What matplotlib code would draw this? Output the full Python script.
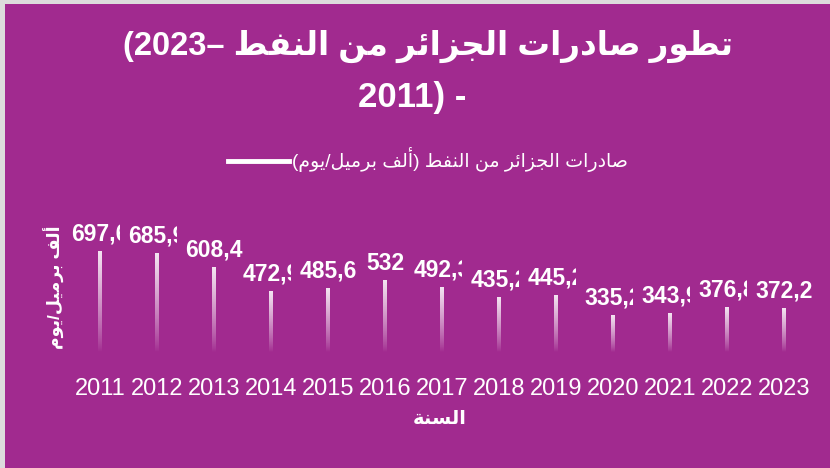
import re
import numpy as np
import matplotlib
matplotlib.use("Agg")
import matplotlib.pyplot as plt
from matplotlib.lines import Line2D
from matplotlib.patches import Rectangle

# data
years = [2011, 2012, 2013, 2014, 2015, 2016, 2017, 2018, 2019, 2020, 2021, 2022, 2023]
exports = [697.6, 685.9, 608.4, 472.9, 485.6, 532, 492.3, 435.2, 445.2, 335.2, 343.9, 376.8, 372.2]
# labels that are cut off on the right in the original
truncated = [2011, 2012, 2014, 2017, 2018, 2019, 2020, 2021, 2022]

title_ar = "تطور صادرات الجزائر من النفط"
title_l1_num = "(2023– "
title_l2 = "2011) -"
series_name = "صادرات الجزائر من النفط (ألف برميل/يوم)"
ylabel = "ألف برميل/يوم"
xlabel = "السنة"

PURPLE = "#A12A8F"

# matplotlib has no arabic shaping, so do it by hand with presentation forms
FORMS = {
    "ا": ("\uFE8D", "\uFE8E", None, None),
    "أ": ("\uFE83", "\uFE84", None, None),
    "ب": ("\uFE8F", "\uFE90", "\uFE91", "\uFE92"),
    "ة": ("\uFE93", "\uFE94", None, None),
    "ت": ("\uFE95", "\uFE96", "\uFE97", "\uFE98"),
    "ج": ("\uFE9D", "\uFE9E", "\uFE9F", "\uFEA0"),
    "د": ("\uFEA9", "\uFEAA", None, None),
    "ر": ("\uFEAD", "\uFEAE", None, None),
    "ز": ("\uFEAF", "\uFEB0", None, None),
    "س": ("\uFEB1", "\uFEB2", "\uFEB3", "\uFEB4"),
    "ص": ("\uFEB9", "\uFEBA", "\uFEBB", "\uFEBC"),
    "ط": ("\uFEC1", "\uFEC2", "\uFEC3", "\uFEC4"),
    "ف": ("\uFED1", "\uFED2", "\uFED3", "\uFED4"),
    "ل": ("\uFEDD", "\uFEDE", "\uFEDF", "\uFEE0"),
    "م": ("\uFEE1", "\uFEE2", "\uFEE3", "\uFEE4"),
    "ن": ("\uFEE5", "\uFEE6", "\uFEE7", "\uFEE8"),
    "و": ("\uFEED", "\uFEEE", None, None),
    "ي": ("\uFEF1", "\uFEF2", "\uFEF3", "\uFEF4"),
    "ئ": ("\uFE89", "\uFE8A", "\uFE8B", "\uFE8C"),
}


def shape(text):
    out = []
    for i, c in enumerate(text):
        if c not in FORMS:
            out.append(c)
            continue
        prev = text[i - 1] if i > 0 else None
        nxt = text[i + 1] if i + 1 < len(text) else None
        join_prev = prev in FORMS and FORMS[prev][2] is not None
        join_next = FORMS[c][2] is not None and nxt in FORMS
        if join_prev and join_next:
            out.append(FORMS[c][3])
        elif join_prev:
            out.append(FORMS[c][1])
        elif join_next:
            out.append(FORMS[c][2])
        else:
            out.append(FORMS[c][0])
    return "".join(out)


def rtl(text):
    s = shape(text)[::-1]
    s = re.sub(r"[0-9]+", lambda m: m.group(0)[::-1], s)
    return s.translate(str.maketrans("()", ")("))


plt.rcParams["font.family"] = ["Liberation Sans", "DejaVu Sans"]

fig = plt.figure(figsize=(8.3, 4.68), dpi=100)
fig.patch.set_facecolor("#dcdcdc")
fig.add_artist(Rectangle((5 / 830, 0), 1, 1 - 4 / 468, transform=fig.transFigure,
                         facecolor=PURPLE, edgecolor="none", zorder=-1))

ax = fig.add_axes([0.0861, 0.2009, 0.8928, 0.2995])
ax.set_facecolor("none")
for s in ax.spines.values():
    s.set_visible(False)

x = np.arange(len(years))
fade_end = 125  # bars are fully faded out a bit above the axis

for xi, v, yr in zip(x, exports, years):
    rows = np.linspace(v, 0, 300)
    grad = np.ones((300, 1, 4))
    grad[:, 0, 3] = 0.88 * np.clip((rows - fade_end) / (v - fade_end), 0, 1) ** 0.8
    ax.imshow(grad, extent=(xi - 0.028, xi + 0.028, 0, v), aspect="auto",
              interpolation="bilinear", zorder=2)
    lab = f"{v:g}".replace(".", ",")
    t = ax.annotate(lab, (xi, v), xytext=(0, 8), textcoords="offset points",
                    ha="center", va="baseline", color="white", fontsize=16.5,
                    fontweight="bold", annotation_clip=False)
    if yr in truncated:
        clip = Rectangle((xi - 0.7, 0), 1.05, 2000, transform=ax.transData)
        t.set_clip_path(clip)
        t.set_clip_on(True)

ax.set_xlim(-0.5, len(years) - 0.5)
ax.set_ylim(0, 800)
ax.set_xticks(x, [str(y) for y in years])
ax.set_yticks([])
ax.tick_params(axis="x", length=0, pad=3, labelsize=17, labelcolor="white")

fig.text(0.516, 1 - 46 / 468, title_l1_num + rtl(title_ar), ha="center", va="center",
         color="white", fontsize=23.5, fontweight="bold")
fig.text(0.497, 1 - 98 / 468, title_l2, ha="center", va="center",
         color="white", fontsize=25, fontweight="bold")

fig.legend(handles=[Line2D([], [], color="white", lw=3.5)], labels=[rtl(series_name)],
           loc="center", bbox_to_anchor=(428 / 830, 1 - 160 / 468), frameon=False,
           labelcolor="white", fontsize=13.7, handlelength=3.2, handletextpad=0.2)

fig.text(0.066, 0.387, rtl(ylabel), rotation=90, ha="center", va="center",
         color="white", fontsize=12.5, fontweight="bold")
fig.text(0.530, 1 - 420 / 468, rtl(xlabel), ha="center", va="center",
         color="white", fontsize=14, fontweight="bold")

fig.savefig("out.png", dpi=100)
